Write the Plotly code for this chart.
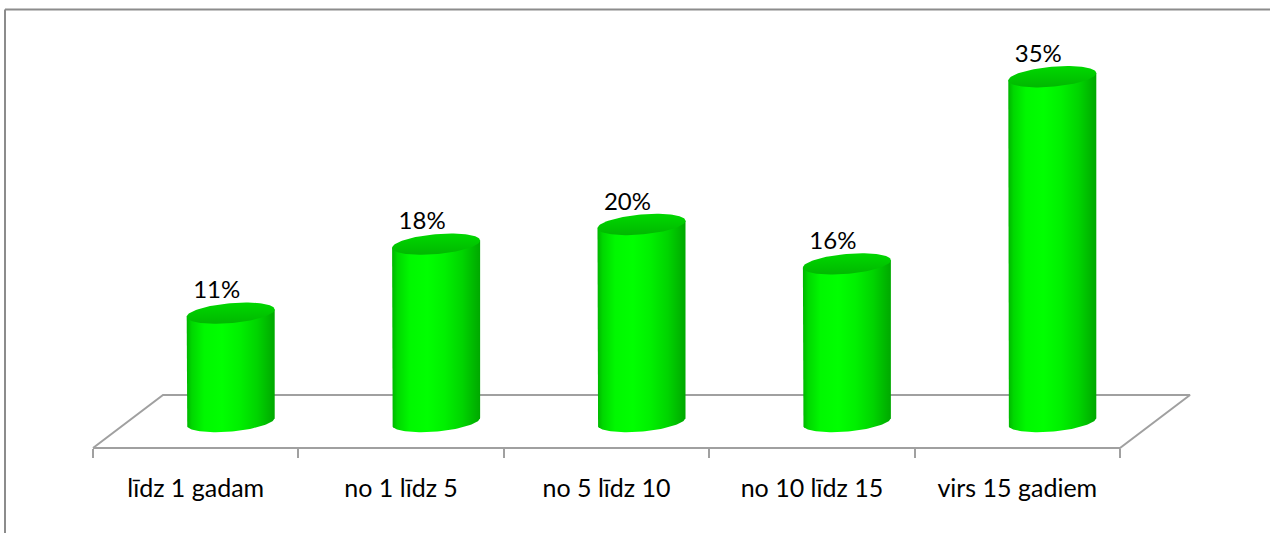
import numpy as np
import plotly.graph_objects as go

# ---- data ----
categories = ["līdz 1 gadam", "no 1 līdz 5", "no 5 līdz 10", "no 10 līdz 15", "virs 15 gadiem"]
values = [11, 18, 20, 16, 35]
value_labels = ["11%", "18%", "20%", "16%", "35%"]

# ---- pixel geometry -> axis scaling (styling only) ----
W, H = 1270, 533
px_per_x = 205.4          # pixels per category unit
px_per_y = 9.85           # pixels per percentage point
x_left_px = 93            # pixel of category boundary -0.5
y_zero_px = 421.5         # pixel of value 0 at mid depth
x0 = -0.5 - x_left_px / px_per_x
x1 = x0 + W / px_per_x
y0 = -(H - y_zero_px) / px_per_y
y1 = y0 + H / px_per_y

depth_x = 70 / px_per_x   # full floor depth (x units)
depth_y = 53 / px_per_y   # full floor depth (y units)
rx = 44 / px_per_x        # cylinder radius
ry = 10 / px_per_y        # ellipse half-height
tilt = 3.7 / px_per_y     # perspective tilt of ellipses
lab_dx = -14 / px_per_x
lab_dy = 21 / px_per_y

n = len(categories)
fig = go.Figure()

# floor (parallelogram)
fy = -depth_y / 2
by = depth_y / 2
fxl, fxr = -0.5, n - 0.5
floor_x = [fxl, fxr, fxr + depth_x, fxl + depth_x, fxl]
floor_y = [fy, fy, by, by, fy]
fig.add_trace(go.Scatter(x=floor_x, y=floor_y, mode="lines",
                         line=dict(color="#A0A0A0", width=2),
                         hoverinfo="skip", showlegend=False))

theta_full = np.linspace(0, 2 * np.pi, 120)

body_scale = [[0.0, "#00B400"], [0.06, "#00D800"], [0.2, "#00F800"], [0.4, "#00FF00"],
              [0.6, "#00F000"], [0.8, "#00D400"], [1.0, "#00A800"]]
top_scale = [[0.0, "#00B800"], [1.0, "#00D800"]]

for i, v in enumerate(values):
    cx = i + depth_x / 2
    # body: left side, front half of bottom ellipse, right side
    th = np.linspace(np.pi, 2 * np.pi, 60)
    arc_x = cx + rx * np.cos(th)
    arc_y = 0 + ry * np.sin(th) + tilt * np.cos(th)
    body_x = [cx - rx] + list(arc_x) + [cx + rx, cx - rx]
    body_y = [v - tilt] + list(arc_y) + [v + tilt, v - tilt]
    fig.add_trace(go.Scatter(x=body_x, y=body_y, mode="lines", fill="toself",
                             line=dict(width=0, color="rgba(0,0,0,0)"),
                             fillgradient=dict(type="horizontal", colorscale=body_scale),
                             hoverinfo="skip", showlegend=False))
    # top ellipse
    tx = cx + rx * np.cos(theta_full)
    ty = v + ry * np.sin(theta_full) + tilt * np.cos(theta_full)
    fig.add_trace(go.Scatter(x=tx, y=ty, mode="lines", fill="toself",
                             line=dict(width=0, color="rgba(0,0,0,0)"),
                             fillgradient=dict(type="vertical", colorscale=top_scale),
                             hoverinfo="skip", showlegend=False))

# value labels
fig.add_trace(go.Scatter(
    x=[i + depth_x / 2 + lab_dx for i in range(n)],
    y=[v + lab_dy for v in values],
    mode="text", text=value_labels, textposition="middle center",
    textfont=dict(family="Lato", size=24, color="#000000"),
    hoverinfo="skip", showlegend=False, cliponaxis=False))

fig.update_layout(
    width=W, height=H,
    margin=dict(l=0, r=0, t=0, b=0),
    paper_bgcolor="white", plot_bgcolor="white",
    showlegend=False,
    xaxis=dict(range=[x0, x1], domain=[0, 1], anchor="free", position=(H - 448) / H,
               showgrid=False, zeroline=False, showline=False,
               tickmode="array", tickvals=list(range(n)), ticktext=categories,
               ticks="", ticklabelstandoff=23,
               tickfont=dict(family="Lato", size=25, color="#000000"),
               minor=dict(tickmode="array", tickvals=[k - 0.5 for k in range(n + 1)],
                          ticks="outside", ticklen=9, tickwidth=2, tickcolor="#A0A0A0",
                          showgrid=False),
               fixedrange=True),
    yaxis=dict(range=[y0, y1], domain=[0, 1], visible=False, fixedrange=True),
    shapes=[
        dict(type="line", xref="paper", yref="paper", x0=5 / W, x1=1.0,
             y0=1 - 9.5 / H, y1=1 - 9.5 / H, line=dict(color="#8C8C8C", width=2)),
        dict(type="line", xref="paper", yref="paper", x0=5 / W, x1=5 / W,
             y0=0, y1=1 - 9.5 / H, line=dict(color="#8C8C8C", width=2)),
    ],
)

fig.write_html("out.html")
